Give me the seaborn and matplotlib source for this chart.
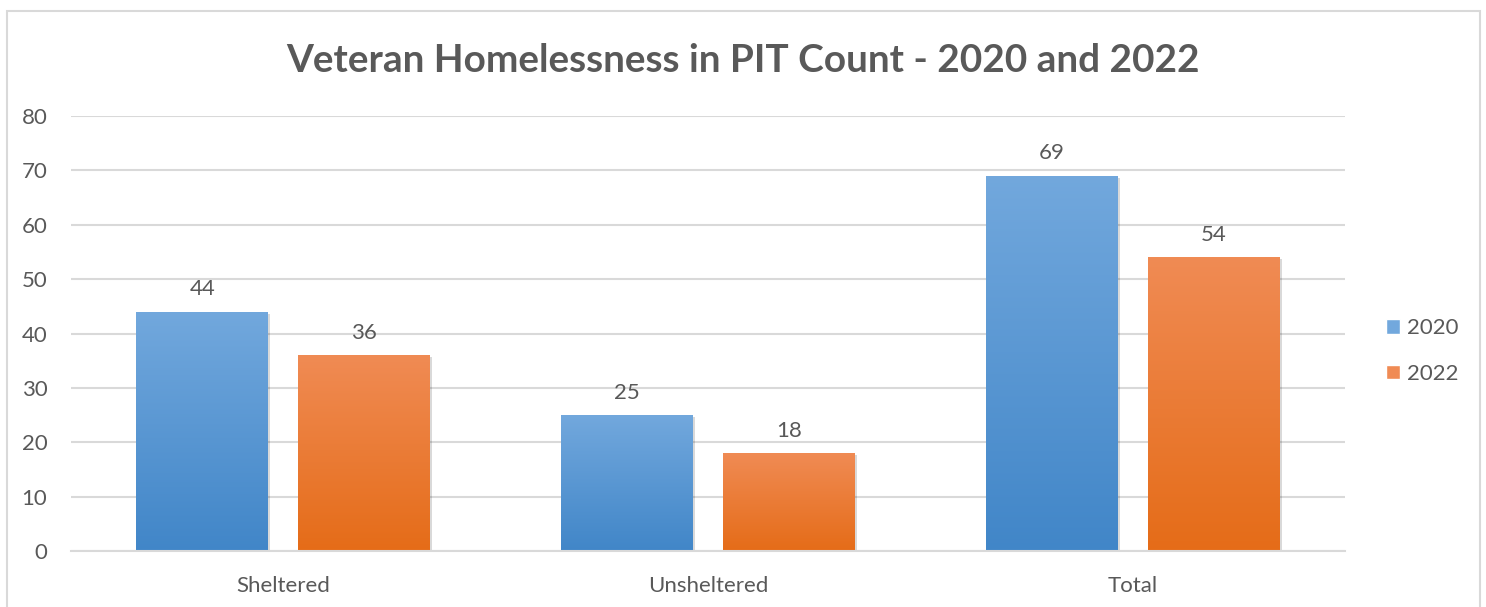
import numpy as np
import pandas as pd
import matplotlib
matplotlib.use("Agg")
import matplotlib.pyplot as plt
import matplotlib.colors as mcolors
from matplotlib.patches import Rectangle
import matplotlib.patheffects as pe
import seaborn as sns

categories = ["Sheltered", "Unsheltered", "Total"]
years = ["2020", "2022"]
values_2020 = [44, 25, 69]
values_2022 = [36, 18, 54]

df = pd.DataFrame({
    "category": categories * 2,
    "year": [years[0]] * 3 + [years[1]] * 3,
    "count": values_2020 + values_2022,
})

sns.set_theme(style="white")
plt.rcParams["font.family"] = ["Lato", "DejaVu Sans"]

text_gray = "#595959"
grid_gray = "#D9D9D9"
palette = {"2020": "#5B9BD5", "2022": "#ED7D31"}
gradients = {
    "2020": ("#72A8DD", "#4186C8"),
    "2022": ("#F08B54", "#E56C18"),
}
label_size = 16

fig = plt.figure(figsize=(14.86, 6.07), dpi=100)
ax = fig.add_axes([71 / 1486, 1 - 551 / 607, (1345 - 71) / 1486, (551 - 116) / 607])

sns.barplot(data=df, x="category", y="count", hue="year", palette=palette,
            width=0.7624, gap=0.185, ax=ax, legend=False, saturation=1,
            order=categories, hue_order=years, linewidth=0)

ax.set_ylim(0, 80)
ax.set_xlim(-0.5, 2.5)
ax.set_yticks(range(0, 81, 10))
ax.yaxis.grid(True, color=grid_gray, linewidth=1.5)
ax.set_axisbelow(True)
for side in ["left", "right", "top"]:
    ax.spines[side].set_visible(False)
ax.spines["bottom"].set_color(grid_gray)
ax.spines["bottom"].set_linewidth(1.5)
ax.tick_params(axis="both", length=0, labelsize=label_size, colors=text_gray)
ax.tick_params(axis="y", pad=17)
ax.tick_params(axis="x", pad=18)
ax.set_xlabel("")
ax.set_ylabel("")

# vertical gradient fill, soft shadow and value label for each bar
bars = list(ax.patches)
for i, bar in enumerate(bars):
    year = years[i // len(categories)]
    top_c, bot_c = gradients[year]
    x0, w = bar.get_x(), bar.get_width()
    h = bar.get_height()
    cmap = mcolors.LinearSegmentedColormap.from_list("g", [bot_c, top_c])
    grad = np.linspace(0, 1, 256).reshape(-1, 1)
    bar.set_path_effects([pe.SimplePatchShadow(offset=(1.5, -1.5), shadow_rgbFace="#000000", alpha=0.15),
                          pe.Normal()])
    im = ax.imshow(grad, extent=(x0, x0 + w, 0, h), origin="lower", cmap=cmap,
                   aspect="auto", zorder=bar.get_zorder() + 0.1, interpolation="bilinear")
    im.set_clip_path(bar)
    ax.annotate(f"{h:g}", (x0 + w / 2, h), xytext=(0, 9), textcoords="offset points",
                ha="center", va="bottom", fontsize=label_size, color=text_gray)

ax.set_xlim(-0.5, 2.5)
ax.set_ylim(0, 80)

fig.text(743 / 1486, 1 - 61 / 607, "Veteran Homelessness in PIT Count - 2020 and 2022",
         ha="center", va="center", fontsize=27.9, fontweight="bold", color=text_gray)

# legend
handles = [Rectangle((0, 0), 1, 1, facecolor=gradients[y][0]) for y in years]
fig.legend(handles, years, loc="center left", bbox_to_anchor=(1366 / 1486, 1 - 351 / 607),
           frameon=False, fontsize=label_size, labelcolor=text_gray, handlelength=0.65,
           handleheight=0.65, handletextpad=0.3, labelspacing=1.15)

# chart border
fig.patches.append(Rectangle((7 / 1486, -0.05), (1480 - 7) / 1486, 1 - 11 / 607 + 0.05,
                             transform=fig.transFigure, fill=False, edgecolor=grid_gray,
                             linewidth=1.5))

fig.savefig("out.png", dpi=100, facecolor="white")
